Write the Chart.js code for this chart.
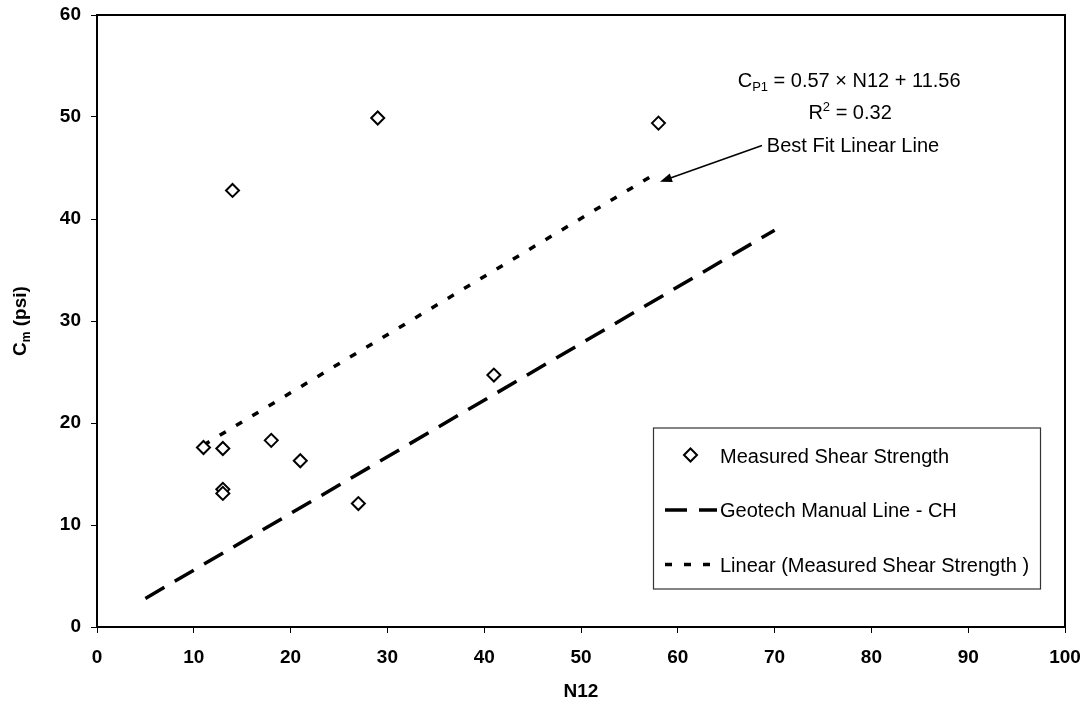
<!DOCTYPE html>
<html>
<head>
<meta charset="utf-8">
<script src="https://cdn.jsdelivr.net/npm/chart.js@4.4.1/dist/chart.umd.min.js"></script>
<style>
  html, body { margin: 0; padding: 0; background: #fff; }
  #wrap { width: 1086px; height: 703px; position: relative; }
</style>
</head>
<body>
<div id="wrap"><canvas id="cm-chart"></canvas></div>
<script>
// ── DATA ───────────────────────────────────────────────────────
const N12_MEASURED = [11, 13, 13, 13, 14, 18, 21, 27, 29, 41, 58];
const CM_MEASURED  = [17.6, 17.5, 13.5, 13.1, 42.8, 18.3, 16.3, 12.1, 49.9, 24.7, 49.4];

// Geotech manual line for CH soils (two end points)
const GEOTECH_N12 = [5, 70];
const GEOTECH_CM  = [2.8, 38.9];

// Linear fit of the measured points, end points at the data range
const FIT_N12 = [11, 58];
const FIT_CM  = [17.83, 44.62];

const X_TICKS = [0, 10, 20, 30, 40, 50, 60, 70, 80, 90, 100];
const Y_TICKS = [0, 10, 20, 30, 40, 50, 60];

const LEGEND_LABELS = [
  'Measured Shear Strength',
  'Geotech Manual Line - CH',
  'Linear (Measured Shear Strength )',
];

const FIT_EQUATION = ' = 0.57 \u00d7 N12 + 11.56';
const FIT_R2       = ' = 0.32';
const FIT_NOTE     = 'Best Fit Linear Line';

// ── LOOK ───────────────────────────────────────────────────────
const FONT = '"Liberation Sans", Arial, sans-serif';
const GEO_DASH = [22, 12];
const FIT_DASH = [7, 12];

// annotation anchors, in data units
const EQ_AT    = [77.7, 52.97];
const R2_AT    = [77.8, 49.8];
const NOTE_AT  = [69.2, 46.6];
const ARROW_FROM = [68.7, 47.2];
const ARROW_TO   = [58.16, 43.66];

const zip = (xs, ys) => xs.map((x, i) => ({ x, y: ys[i] }));

// ── HELPERS ────────────────────────────────────────────────────
function diamond(ctx, x, y, r) {
  ctx.beginPath();
  ctx.moveTo(x - r, y);
  ctx.lineTo(x, y - r);
  ctx.lineTo(x + r, y);
  ctx.lineTo(x, y + r);
  ctx.closePath();
  ctx.fillStyle = '#fff';
  ctx.fill();
  ctx.lineWidth = 2;
  ctx.strokeStyle = '#000';
  ctx.stroke();
}

function hLine(ctx, x1, x2, y, dash, width) {
  ctx.save();
  ctx.beginPath();
  ctx.setLineDash(dash);
  ctx.lineWidth = width;
  ctx.strokeStyle = '#000';
  ctx.moveTo(x1, y);
  ctx.lineTo(x2, y);
  ctx.stroke();
  ctx.restore();
}

// draws "base" + small "script" + "rest" centred (or left aligned) at x
function scriptText(ctx, x, y, base, script, rest, size, weight, lift, align) {
  const big = `${weight} ${size}px ${FONT}`;
  const small = `${weight} ${Math.round(size * 0.65)}px ${FONT}`;
  ctx.font = big;   const w1 = ctx.measureText(base).width;
  ctx.font = small; const w2 = ctx.measureText(script).width;
  ctx.font = big;   const w3 = ctx.measureText(rest).width;
  let x0 = align === 'center' ? x - (w1 + w2 + w3) / 2 : x;
  ctx.textAlign = 'left';
  ctx.textBaseline = 'alphabetic';
  ctx.fillStyle = '#000';
  ctx.font = big;   ctx.fillText(base, x0, y);
  ctx.font = small; ctx.fillText(script, x0 + w1, y + lift);
  ctx.font = big;   ctx.fillText(rest, x0 + w1 + w2, y);
}

// ── PLUGIN: frame, legend, annotations, titles ─────────────────
const decor = {
  id: 'decor',
  afterDraw(chart) {
    const { ctx, chartArea: a, scales: { x, y } } = chart;
    const px = p => [x.getPixelForValue(p[0]), y.getPixelForValue(p[1])];

    // top + right frame
    ctx.save();
    ctx.strokeStyle = '#000';
    ctx.lineWidth = 2;
    ctx.beginPath();
    ctx.moveTo(a.left, a.top);
    ctx.lineTo(a.right, a.top);
    ctx.lineTo(a.right, a.bottom);
    ctx.stroke();

    // fit equation
    const [ex, ey] = px(EQ_AT);
    scriptText(ctx, ex, ey, 'C', 'P1', FIT_EQUATION, 20, 'normal', 4, 'center');
    const [rx, ry] = px(R2_AT);
    scriptText(ctx, rx, ry, 'R', '2', FIT_R2, 20, 'normal', -8, 'center');

    // note + arrow
    const [nx, ny] = px(NOTE_AT);
    ctx.font = `20px ${FONT}`;
    ctx.textAlign = 'left';
    ctx.textBaseline = 'alphabetic';
    ctx.fillText(FIT_NOTE, nx, ny);

    const [ax1, ay1] = px(ARROW_FROM);
    const [ax2, ay2] = px(ARROW_TO);
    const ang = Math.atan2(ay2 - ay1, ax2 - ax1);
    const head = 12, half = 4.5;
    ctx.lineWidth = 1.5;
    ctx.beginPath();
    ctx.moveTo(ax1, ay1);
    ctx.lineTo(ax2 - Math.cos(ang) * head * 0.8, ay2 - Math.sin(ang) * head * 0.8);
    ctx.stroke();
    ctx.beginPath();
    ctx.moveTo(ax2, ay2);
    ctx.lineTo(ax2 - Math.cos(ang) * head + Math.sin(ang) * half,
               ay2 - Math.sin(ang) * head - Math.cos(ang) * half);
    ctx.lineTo(ax2 - Math.cos(ang) * head - Math.sin(ang) * half,
               ay2 - Math.sin(ang) * head + Math.cos(ang) * half);
    ctx.closePath();
    ctx.fillStyle = '#000';
    ctx.fill();

    // legend box
    const lx = 653.5, ly = 428, lw = 387, lh = 161;
    ctx.lineWidth = 1.2;
    ctx.strokeStyle = '#333';
    ctx.strokeRect(lx, ly, lw, lh);
    const rows = [462.5, 517, 571.5];
    const textX = 720;
    diamond(ctx, 690.5, rows[0] - 7.5, 6.5);
    hLine(ctx, 665, 717, rows[1] - 7, GEO_DASH, 3.5);
    hLine(ctx, 665, 717, rows[2] - 7, FIT_DASH, 3.5);
    ctx.font = `20px ${FONT}`;
    ctx.fillStyle = '#000';
    ctx.textAlign = 'left';
    ctx.textBaseline = 'alphabetic';
    LEGEND_LABELS.forEach((t, i) => ctx.fillText(t, textX, rows[i]));

    // axis titles
    ctx.font = `bold 19px ${FONT}`;
    ctx.textAlign = 'center';
    ctx.fillText('N12', (a.left + a.right) / 2, 697);

    ctx.translate(26, (a.top + a.bottom) / 2);
    ctx.rotate(-Math.PI / 2);
    scriptText(ctx, 0, 0, 'C', 'm', ' (psi)', 19, 'bold', 4, 'center');
    ctx.restore();
  },
};

// ── CHART ──────────────────────────────────────────────────────
const tickFont = { family: FONT, size: 19, weight: 'bold' };

new Chart(document.getElementById('cm-chart'), {
  type: 'scatter',
  data: {
    datasets: [
      {
        label: LEGEND_LABELS[0],
        data: zip(N12_MEASURED, CM_MEASURED),
        pointStyle: 'rectRot',
        pointRadius: 6.5,
        pointBorderWidth: 2,
        pointBackgroundColor: '#fff',
        pointBorderColor: '#000',
        showLine: false,
        order: 0,
      },
      {
        label: LEGEND_LABELS[1],
        data: zip(GEOTECH_N12, GEOTECH_CM),
        showLine: true,
        borderColor: '#000',
        borderWidth: 3.5,
        borderDash: GEO_DASH,
        pointRadius: 0,
        order: 2,
      },
      {
        label: LEGEND_LABELS[2],
        data: zip(FIT_N12, FIT_CM),
        showLine: true,
        borderColor: '#000',
        borderWidth: 3.5,
        borderDash: FIT_DASH,
        pointRadius: 0,
        order: 1,
      },
    ],
  },
  options: {
    responsive: true,
    maintainAspectRatio: false,
    animation: false,
    layout: { padding: { top: 15, right: 21, bottom: 0, left: 0 } },
    plugins: { legend: { display: false }, tooltip: { enabled: false } },
    scales: {
      x: {
        type: 'linear',
        min: 0, max: 100,
        afterBuildTicks: s => { s.ticks = X_TICKS.map(v => ({ value: v })); },
        afterFit: s => { s.height = 76; s.paddingLeft = 0; s.paddingRight = 0; },
        border: { color: '#000', width: 2 },
        grid: { drawOnChartArea: false, tickLength: 6, color: '#000', lineWidth: 1 },
        ticks: { color: '#000', font: tickFont, padding: 13, maxRotation: 0 },
      },
      y: {
        type: 'linear',
        min: 0, max: 60,
        afterBuildTicks: s => { s.ticks = Y_TICKS.map(v => ({ value: v })); },
        afterFit: s => { s.width = 97; s.paddingTop = 0; s.paddingBottom = 0; },
        border: { color: '#000', width: 2 },
        grid: { drawOnChartArea: false, tickLength: 6, color: '#000', lineWidth: 1 },
        ticks: { color: '#000', font: tickFont, padding: 10 },
      },
    },
  },
  plugins: [decor],
});
</script>
</body>
</html>
